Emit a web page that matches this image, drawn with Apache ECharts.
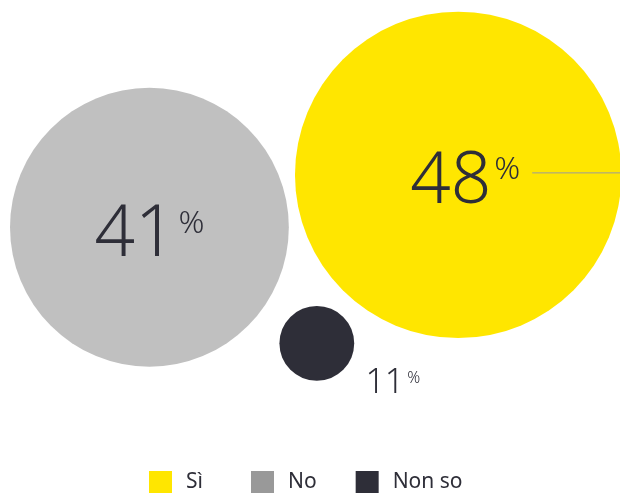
<!DOCTYPE html>
<html>
<head>
<meta charset="utf-8">
<script src="https://cdn.jsdelivr.net/npm/echarts@6/dist/echarts.min.js"></script>
<style>html,body{margin:0;padding:0;background:#fff}#c{width:620px;height:494px}</style>
</head>
<body>
<div id="c"></div>
<script>
const categories = ['Sì', 'No', 'Non so'];
const values = [48, 41, 11];
const xPos = [73.9, 24.1, 51.1];
const yPos = [35.4, 46.0, 69.5];
const colors = ['#FFE600', '#C0C0C0', '#2E2E38'];
const legendColors = ['#FFE600', '#999999', '#2E2E38'];

const TXT = '#2E2E38';
const FONT = 'Noto Sans';
const sizePerUnit = 6.8;

function bigLabel(offset) {
  return {
    show: true,
    position: 'inside',
    offset: offset,
    formatter: p => '{n|' + p.value[2] + '}{p|%}',
    rich: {
      n: { fontSize: 71, fontFamily: FONT, fontWeight: 300, color: TXT, lineHeight: 71 },
      p: { fontSize: 32, fontFamily: FONT, fontWeight: 300, color: TXT, verticalAlign: 'top', lineHeight: 32, padding: [7, 0, 0, 3] }
    }
  };
}

const labelCfg = [
  bigLabel([7, 8]),
  bigLabel([0, 9]),
  {
    show: true,
    position: [86, 77],
    align: 'left',
    verticalAlign: 'middle',
    formatter: p => '{n|' + p.value[2] + '}{p|%}',
    rich: {
      n: { fontSize: 34, fontFamily: FONT, fontWeight: 300, color: TXT, lineHeight: 34 },
      p: { fontSize: 16, fontFamily: FONT, fontWeight: 300, color: TXT, verticalAlign: 'top', lineHeight: 16, padding: [5, 0, 0, 3] }
    }
  }
];

const series = categories.map((name, i) => ({
  name: name,
  type: 'scatter',
  clip: false,
  symbol: 'circle',
  symbolSize: v => v[2] * sizePerUnit,
  itemStyle: { color: colors[i], opacity: 1 },
  label: labelCfg[i],
  emphasis: { disabled: true },
  data: [[xPos[i], yPos[i], values[i]]],
  z: i === 2 ? 3 : 2
}));

function legendPart(idxs, left) {
  return {
    left: left,
    top: 471,
    padding: 0,
    icon: 'rect',
    itemWidth: 23,
    itemHeight: 22,
    itemGap: 39,
    selectedMode: false,
    textStyle: { fontSize: 21, fontFamily: FONT, color: TXT, padding: [0, 0, 0, 9] },
    data: idxs.map(i => ({ name: categories[i], itemStyle: { color: legendColors[i] } }))
  };
}

const chart = echarts.init(document.getElementById('c'));
chart.setOption({
  animation: false,
  backgroundColor: '#fff',
  grid: { left: 0, right: 0, top: 0, bottom: 0, containLabel: false },
  xAxis: { type: 'value', min: 0, max: 100, show: false },
  yAxis: { type: 'value', min: 0, max: 100, inverse: true, show: false },
  legend: [legendPart([0], 149), legendPart([1, 2], 251)],
  series: series
});

const c0 = chart.convertToPixel({ gridIndex: 0 }, [xPos[0], yPos[0]]);
chart.setOption({
  graphic: [{
    type: 'line',
    z: 10,
    shape: { x1: c0[0] + 74, y1: c0[1] - 2, x2: 620, y2: c0[1] - 2 },
    style: { stroke: '#9a9a9a', lineWidth: 1 }
  }]
});
</script>
</body>
</html>
